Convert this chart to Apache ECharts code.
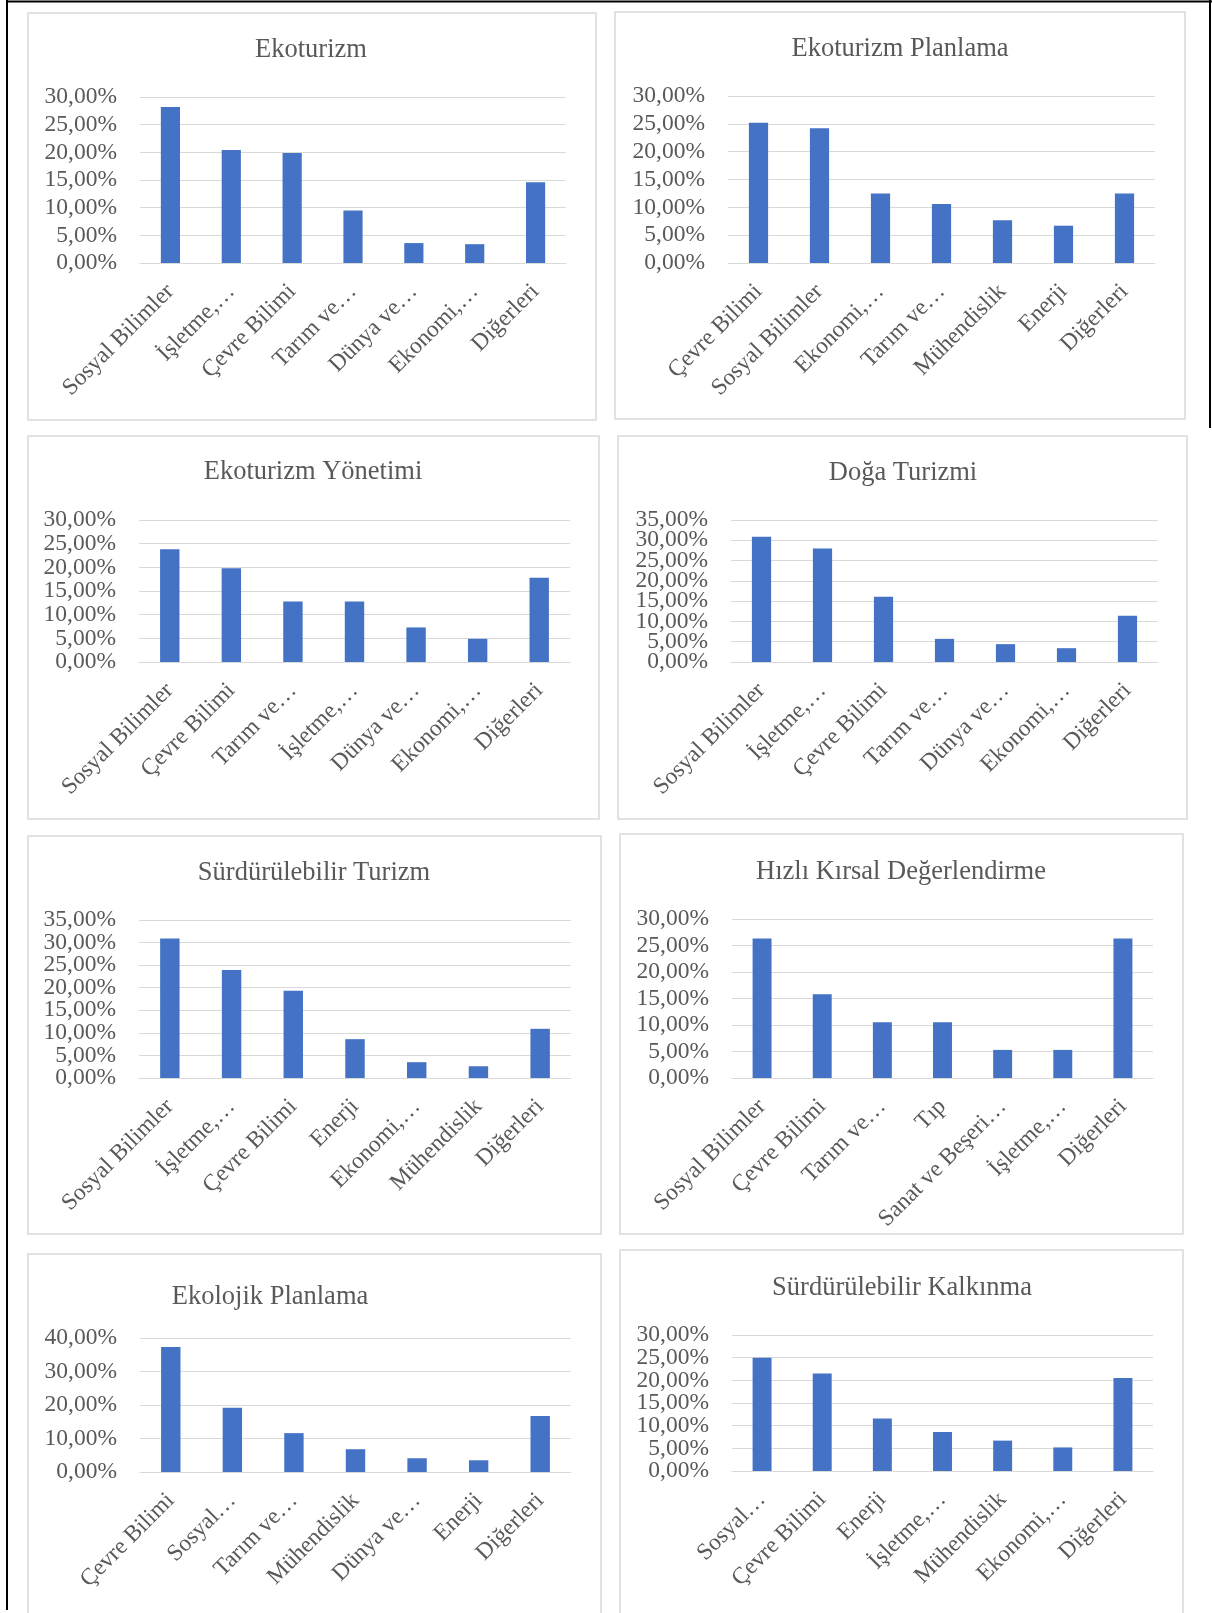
<!DOCTYPE html>
<html>
<head>
<meta charset="utf-8">
<script src="https://cdn.jsdelivr.net/npm/echarts@6/dist/echarts.min.js"></script>
<style>
html,body{margin:0;padding:0;background:#fff;}
#chart{width:1212px;height:1613px;}
</style>
</head>
<body>
<div id="chart"></div>
<script>
// ---- Data ----
const titles = ['Ekoturizm','Ekoturizm Planlama','Ekoturizm Yönetimi','Doğa Turizmi','Sürdürülebilir Turizm','Hızlı Kırsal Değerlendirme','Ekolojik Planlama','Sürdürülebilir Kalkınma'];

const cats1 = ['Sosyal Bilimler','İşletme,…','Çevre Bilimi','Tarım ve…','Dünya ve…','Ekonomi,…','Diğerleri'];
const vals1 = [28.2, 20.4, 19.9, 9.5, 3.6, 3.4, 14.6];

const cats2 = ['Çevre Bilimi','Sosyal Bilimler','Ekonomi,…','Tarım ve…','Mühendislik','Enerji','Diğerleri'];
const vals2 = [25.2, 24.2, 12.5, 10.6, 7.7, 6.7, 12.5];

const cats3 = ['Sosyal Bilimler','Çevre Bilimi','Tarım ve…','İşletme,…','Dünya ve…','Ekonomi,…','Diğerleri'];
const vals3 = [23.8, 19.8, 12.8, 12.8, 7.3, 4.9, 17.8];

const cats4 = ['Sosyal Bilimler','İşletme,…','Çevre Bilimi','Tarım ve…','Dünya ve…','Ekonomi,…','Diğerleri'];
const vals4 = [30.9, 28.0, 16.1, 5.7, 4.4, 3.4, 11.4];

const cats5 = ['Sosyal Bilimler','İşletme,…','Çevre Bilimi','Enerji','Ekonomi,…','Mühendislik','Diğerleri'];
const vals5 = [30.9, 23.9, 19.3, 8.6, 3.5, 2.6, 10.9];

const cats6 = ['Sosyal Bilimler','Çevre Bilimi','Tarım ve…','Tıp','Sanat ve Beşeri…','İşletme,…','Diğerleri'];
const vals6 = [26.3, 15.8, 10.5, 10.5, 5.3, 5.3, 26.3];

const cats7 = ['Çevre Bilimi','Sosyal…','Tarım ve…','Mühendislik','Dünya ve…','Enerji','Diğerleri'];
const vals7 = [37.3, 19.2, 11.6, 6.8, 4.1, 3.5, 16.7];

const cats8 = ['Sosyal…','Çevre Bilimi','Enerji','İşletme,…','Mühendislik','Ekonomi,…','Diğerleri'];
const vals8 = [25.0, 21.5, 11.6, 8.6, 6.7, 5.2, 20.5];

// y tick values per panel
const ticks30 = [0, 5, 10, 15, 20, 25, 30];
const ticks35 = [0, 5, 10, 15, 20, 25, 30, 35];
const ticks40 = [0, 10, 20, 30, 40];
const panelTicks = [ticks30, ticks30, ticks30, ticks35, ticks35, ticks30, ticks40, ticks30];

// ---- Layout (pixels) ----
const layout = [
  {box:[28,13,568,407],  title:[311,50],   grid:[140,97,426,166]},
  {box:[615,12,570,407], title:[900,49],   grid:[728,96,427,167]},
  {box:[28,436,571,383], title:[313,472],  grid:[139,520,431,142]},
  {box:[618,436,569,383],title:[903,473],  grid:[731,520,427,142]},
  {box:[28,836,573,398], title:[314,873],  grid:[139,920,432,158]},
  {box:[620,834,563,400],title:[901,872],  grid:[732,919,421,159]},
  {box:[28,1254,573,400],title:[270,1297], grid:[140,1338,431,134]},
  {box:[620,1250,563,400],title:[902,1288],grid:[732,1335,421,136]}
];

const allCats = [cats1,cats2,cats3,cats4,cats5,cats6,cats7,cats8];
const allVals = [vals1,vals2,vals3,vals4,vals5,vals6,vals7,vals8];

const FONT = 'Liberation Serif';
const TXT = '#595959';
const GRID = '#d9d9d9';
const fmt = v => v.toFixed(2).replace('.', ',') + '%';

const grids = [], xAxes = [], yAxes = [], series = [], graphics = [];

layout.forEach((L, i) => {
  const t = panelTicks[i];
  const tMax = t[t.length - 1];
  const step = t[1] - t[0];
  grids.push({left:L.grid[0], top:L.grid[1], width:L.grid[2], height:L.grid[3], containLabel:false});
  xAxes.push({
    type:'category', gridIndex:i, data:allCats[i],
    axisLine:{show:true, lineStyle:{color:GRID, width:1}},
    axisTick:{show:false},
    axisLabel:{interval:0, rotate:45, margin:25, color:TXT, fontFamily:FONT, fontSize:23.5,
      hideOverlap:false}
  });
  const labelBase = {margin:23, color:TXT, fontFamily:FONT, fontSize:23.5,
    showMinLabel:true, showMaxLabel:true, hideOverlap:false, formatter: fmt};
  // main axis: grid lines + even-indexed tick labels
  yAxes.push({
    type:'value', gridIndex:i, position:'left', offset:0, min:0, max:tMax, interval:step,
    axisLine:{show:false}, axisTick:{show:false},
    splitLine:{show:true, lineStyle:{color:GRID, width:1}},
    axisLabel:Object.assign({customValues:t.filter((v, k) => k % 2 === 0)}, labelBase)
  });
  // companion axis: odd-indexed tick labels (same scale)
  yAxes.push({
    type:'value', gridIndex:i, position:'left', offset:0, min:0, max:tMax, interval:step,
    axisLine:{show:false}, axisTick:{show:false}, splitLine:{show:false},
    axisLabel:Object.assign({customValues:t.filter((v, k) => k % 2 === 1)}, labelBase)
  });
  series.push({
    type:'bar', xAxisIndex:i, yAxisIndex:2 * i, data:allVals[i],
    barWidth:'31.5%', itemStyle:{color:'#4472C4'}, silent:true, animation:false
  });
  graphics.push({
    type:'rect', shape:{x:L.box[0], y:L.box[1], width:L.box[2], height:L.box[3]},
    style:{fill:null, stroke:GRID, lineWidth:1.5}, z:-1
  });
  graphics.push({
    type:'text', x:L.title[0], y:L.title[1],
    style:{text:titles[i], font:'26.5px "Liberation Serif"', fill:TXT,
      textAlign:'center', textVerticalAlign:'middle', align:'center', verticalAlign:'middle'}
  });
});

// outer black frame
graphics.push({type:'line', shape:{x1:7, y1:0, x2:7, y2:1610}, style:{stroke:'#000', lineWidth:2}});
graphics.push({type:'line', shape:{x1:6, y1:1.5, x2:1212, y2:1.5}, style:{stroke:'#000', lineWidth:2}});
graphics.push({type:'line', shape:{x1:1210, y1:0, x2:1210, y2:428}, style:{stroke:'#000', lineWidth:2}});

const chart = echarts.init(document.getElementById('chart'), null, {renderer:'canvas'});
chart.setOption({
  animation:false,
  backgroundColor:'#ffffff',
  textStyle:{fontFamily:FONT},
  grid:grids, xAxis:xAxes, yAxis:yAxes, series:series,
  graphic:{elements:graphics}
});
</script>
</body>
</html>
